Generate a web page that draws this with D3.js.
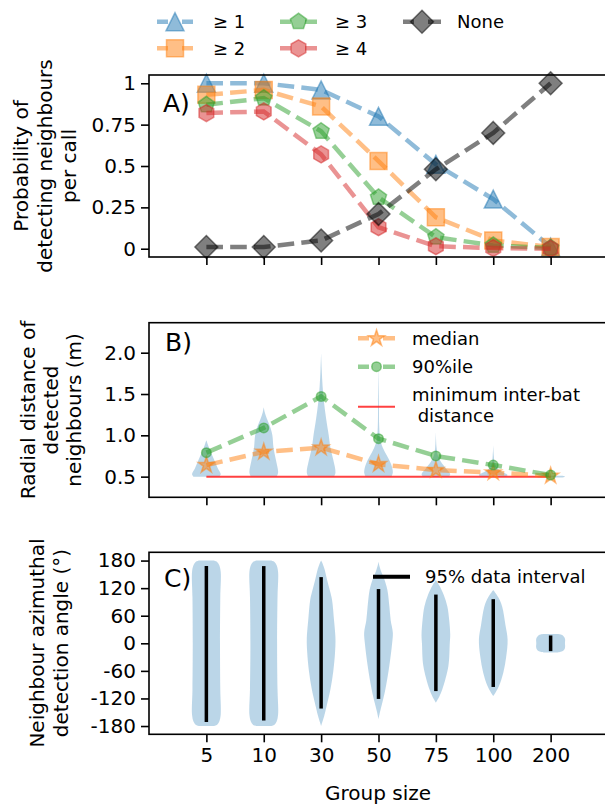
<!DOCTYPE html>
<html><head><meta charset="utf-8">
<script src="https://cdn.jsdelivr.net/npm/d3@7"></script>
<style>
body{margin:0;background:#fff}
text{font-family:"DejaVu Sans",sans-serif;fill:#000}
</style>
</head><body><svg id="c" width="605" height="805"></svg>
<script>
// ---------------- data ----------------
const groups = ["5","10","30","50","75","100","200"];
const probAtLeast1 = [1.0, 1.0, 0.96, 0.80, 0.51, 0.30, 0.01];
const probAtLeast2 = [0.93, 0.96, 0.86, 0.53, 0.19, 0.05, 0.01];
const probAtLeast3 = [0.87, 0.91, 0.71, 0.31, 0.07, 0.02, 0.005];
const probAtLeast4 = [0.82, 0.83, 0.57, 0.13, 0.015, 0.004, 0.0];
const probNone     = [0.01, 0.01, 0.05, 0.21, 0.48, 0.70, 1.0];
const probTicks = [0, 0.25, 0.5, 0.75, 1];
const probTickLabels = ["0","0.25","0.5","0.75","1"];

const medianDist = [0.64, 0.80, 0.85, 0.65, 0.58, 0.55, 0.51];
const p90Dist    = [0.79, 1.09, 1.47, 0.96, 0.75, 0.64, 0.52];
const minInterBat = 0.5;
const distTicks = [0.5, 1.0, 1.5, 2.0];
// violin outlines: [distance (m), relative half-width]
const distViolin5   = [[0.5,0.9],[0.53,1],[0.6,0.8],[0.7,0.55],[0.8,0.3],[0.88,0.12],[0.94,0]];
const distViolin10  = [[0.5,0.9],[0.55,1],[0.7,0.85],[0.85,0.68],[1.0,0.6],[1.1,0.45],[1.2,0.22],[1.28,0.07],[1.34,0]];
const distViolin30  = [[0.5,0.9],[0.55,1],[0.7,0.85],[0.85,0.65],[1.0,0.53],[1.2,0.35],[1.4,0.2],[1.6,0.1],[1.8,0.04],[2.0,0]];
const distViolin50  = [[0.5,0.9],[0.55,1],[0.65,0.88],[0.75,0.6],[0.85,0.3],[0.95,0.12],[1.1,0.05],[1.4,0.03],[1.84,0]];
const distViolin75  = [[0.5,0.9],[0.53,1],[0.6,0.7],[0.68,0.35],[0.75,0.15],[0.85,0.05],[1.04,0]];
const distViolin100 = [[0.5,0.9],[0.52,1],[0.56,0.6],[0.6,0.3],[0.65,0.12],[0.75,0.04],[0.88,0]];
const distViolin200 = [[0.49,0.8],[0.5,1],[0.51,0.8]];
const distViolins = [distViolin5,distViolin10,distViolin30,distViolin50,distViolin75,distViolin100,distViolin200];

const angleTicks = [-180,-120,-60,0,60,120,180];
// violin outlines: [angle (deg), relative half-width]
const angleViolin5   = [[-180,0.5],[-177,0.75],[-170,0.9],[-155,1],[-100,0.97],[0,0.95],[100,0.97],[155,1],[170,0.9],[177,0.75],[180,0.5]];
const angleViolin10  = [[-180,0.5],[-177,0.75],[-170,0.9],[-155,1],[-100,0.96],[0,0.93],[100,0.96],[155,1],[170,0.9],[177,0.75],[180,0.5]];
const angleViolin30  = [[-180,0],[-160,0.2],[-137,0.38],[-100,0.65],[-60,0.85],[-20,0.97],[10,1],[50,0.9],[95,0.76],[116,0.6],[140,0.4],[160,0.25],[175,0.08],[180,0]];
const angleViolin50  = [[-165,0],[-150,0.1],[-129,0.27],[-100,0.48],[-50,0.75],[0,0.95],[23,1],[50,0.85],[80,0.76],[116,0.62],[140,0.4],[155,0.2],[170,0.05],[178,0]];
const angleViolin75  = [[-129,0],[-115,0.25],[-100,0.45],[-50,0.87],[0,0.97],[19,1],[50,0.93],[80,0.8],[105,0.55],[125,0.25],[138,0]];
const angleViolin100 = [[-115,0],[-105,0.2],[-93,0.4],[-64,0.7],[-30,0.9],[8,1],[40,0.85],[80,0.62],[100,0.35],[116,0]];
const angleViolin200 = [[-20,0.5],[-17,0.85],[-10,1],[0,1],[10,1],[17,0.85],[20,0.5]];
const angleViolins = [angleViolin5,angleViolin10,angleViolin30,angleViolin50,angleViolin75,angleViolin100,angleViolin200];
const angleIntervalLow  = [-171,-168,-142,-121,-104,-95,-17];
const angleIntervalHigh = [168,168,144,118,106,96,17];

// ---------------- drawing ----------------
const svg = d3.select("#c");
const FONT_TICK = 20, FONT_LABEL = 20, FONT_LEG = 18, FONT_PANEL = 25;
const C = {blue:"#1f77b4", orange:"#ff7f0e", green:"#2ca02c", red:"#d62728", black:"#000000"};
const DASH = "16.6,7.2";
const LW = 4.5;

const x = d3.scaleLinear().domain([0, 8]).range([149, 608]);
const xpos = groups.map((g,i)=>i+1);
const hw = (x(1)-x(0))*0.25;

function markerPath(type, ms){
  const r = ms/2;
  const poly = (n, rad, rot) => d3.range(n).map(k=>{const a = rot + 2*Math.PI*k/n; return [rad*Math.sin(a), -rad*Math.cos(a)];});
  let pts;
  if(type==="^") pts = [[0,-r],[-r,r],[r,r]];
  else if(type==="s") pts = [[-r,-r],[r,-r],[r,r],[-r,r]];
  else if(type==="p") pts = poly(5, r, 0);
  else if(type==="h") pts = poly(6, r, 0);
  else if(type==="D") { const d = r*1.35; pts = [[0,-d],[d,0],[0,d],[-d,0]]; }
  else if(type==="*") { pts = []; for(let k=0;k<10;k++){ const a = Math.PI*k/5; const rad = k%2===0 ? r : r*0.381966; pts.push([rad*Math.sin(a), -rad*Math.cos(a)]); } }
  else if(type==="o") { return d3.symbol(d3.symbolCircle, Math.PI*r*r)(); }
  return "M" + pts.map(p=>p[0].toFixed(2)+","+p[1].toFixed(2)).join("L") + "Z";
}

function drawFrame(top, bottom){
  svg.append("rect").attr("x",149).attr("y",top).attr("width",608-149).attr("height",bottom-top)
    .attr("fill","none").attr("stroke","#000").attr("stroke-width",1.6);
}
function xTicks(bottom, labels){
  const g = svg.append("g").attr("transform",`translate(0,${bottom})`)
    .call(d3.axisBottom(x).tickValues(xpos).tickSize(8).tickPadding(6).tickFormat((d,i)=>labels?groups[i]:""));
  g.select(".domain").remove();
  g.selectAll(".tick line").attr("stroke","#000").attr("stroke-width",1.6);
  g.selectAll(".tick text").attr("font-size",FONT_TICK).attr("font-family","DejaVu Sans").attr("fill","#000");
}
function yAxis(scale, ticks, fmt){
  const g = svg.append("g").attr("transform","translate(149,0)")
    .call(d3.axisLeft(scale).tickValues(ticks).tickSize(8).tickPadding(5).tickFormat(fmt));
  g.select(".domain").remove();
  g.selectAll(".tick line").attr("stroke","#000").attr("stroke-width",1.6);
  g.selectAll(".tick text").attr("font-size",FONT_TICK).attr("font-family","DejaVu Sans").attr("fill","#000");
}
function yLabel(lines, xs, cy){
  lines.forEach((t,i)=>{
    svg.append("text").attr("transform",`translate(${xs[i]},${cy}) rotate(-90)`)
      .attr("text-anchor","middle").attr("dy","0.36em").attr("font-size",FONT_LABEL).text(t);
  });
}
function series(yscale, vals, color, marker, ms){
  const line = d3.line().x((d,i)=>x(xpos[i])).y(d=>yscale(d));
  svg.append("path").attr("d",line(vals)).attr("fill","none").attr("stroke",color)
    .attr("stroke-width",LW).attr("stroke-dasharray",DASH).attr("stroke-opacity",0.5);
  svg.append("g").selectAll("path").data(vals).join("path")
    .attr("transform",(d,i)=>`translate(${x(xpos[i])},${yscale(d)})`)
    .attr("d",markerPath(marker,ms)).attr("fill",color).attr("fill-opacity",0.5)
    .attr("stroke",color).attr("stroke-opacity",0.5).attr("stroke-width",1.5).attr("stroke-linejoin","miter");
}
function legendLine(x0, x1, y, color, marker, ms, label, tx){
  svg.append("line").attr("x1",x0).attr("x2",x1).attr("y1",y).attr("y2",y).attr("stroke",color)
    .attr("stroke-width",LW).attr("stroke-dasharray","11,14,16").attr("stroke-opacity",0.5);
  svg.append("path").attr("transform",`translate(${(x0+x1)/2},${y})`).attr("d",markerPath(marker,ms))
    .attr("fill",color).attr("fill-opacity",0.5).attr("stroke",color).attr("stroke-opacity",0.5).attr("stroke-width",1.5);
  svg.append("text").attr("x",tx).attr("y",y).attr("dy","0.36em").attr("font-size",FONT_LEG).text(label);
}

// ---------- Panel A ----------
const yA = d3.scaleLinear().domain([-0.05,1.05]).range([257,75]);
series(yA, probAtLeast1, C.blue, "^", 18);
series(yA, probAtLeast2, C.orange, "s", 17);
series(yA, probAtLeast3, C.green, "p", 17);
series(yA, probAtLeast4, C.red, "h", 17);
series(yA, probNone, C.black, "D", 17);
drawFrame(75,257);
xTicks(257,false);
yAxis(yA, probTicks, (d,i)=>probTickLabels[i]);
yLabel(["Probability of","detecting neighbours","per call"],[21,45,69],166);
svg.append("text").attr("x",163).attr("y",112).attr("font-size",FONT_PANEL).text("A)");

// legend (top)
legendLine(157,193,21.7,C.blue,"^",18,"\u2265 1",213);
legendLine(157,193,48.3,C.orange,"s",17,"\u2265 2",213);
legendLine(280,317,21.7,C.green,"p",17,"\u2265 3",335);
legendLine(280,317,48.3,C.red,"h",17,"\u2265 4",335);
legendLine(403,441,21.7,C.black,"D",17,"None",457);

// ---------- Panel B ----------
const yB = d3.scaleLinear().domain([0.25,2.363]).range([497.3,322.7]);
function violins(yscale, data){
  data.forEach((pts,i)=>{
    const cx = x(xpos[i]);
    const area = d3.area().y(d=>yscale(d[0])).x0(d=>cx-d[1]*hw).x1(d=>cx+d[1]*hw).curve(d3.curveCatmullRom.alpha(0.5));
    svg.append("path").attr("d",area(pts)).attr("fill",C.blue).attr("fill-opacity",0.3).attr("stroke","none");
  });
}
violins(yB, distViolins);
svg.append("line").attr("x1",x(xpos[0])).attr("x2",x(xpos[6])).attr("y1",yB(minInterBat)).attr("y2",yB(minInterBat))
  .attr("stroke","#ff2020").attr("stroke-opacity",0.85).attr("stroke-width",2);
series(yB, medianDist, C.orange, "*", 17);
series(yB, p90Dist, C.green, "o", 9.5);
drawFrame(322.7,497.3);
xTicks(497.3,false);
yAxis(yB, distTicks, d3.format(".1f"));
yLabel(["Radial distance of","detected","neighbours (m)"],[28,51,74],410);
svg.append("text").attr("x",165).attr("y",351).attr("font-size",FONT_PANEL).text("B)");
legendLine(358,395,338.3,C.orange,"*",17,"median",412);
legendLine(358,395,366.7,C.green,"o",9.5,"90%ile",412);
svg.append("line").attr("x1",358).attr("x2",395).attr("y1",406.7).attr("y2",406.7).attr("stroke","#ff2020").attr("stroke-opacity",0.85).attr("stroke-width",2);
svg.append("text").attr("x",412).attr("y",394.3).attr("dy","0.36em").attr("font-size",FONT_LEG).text("minimum inter-bat");
svg.append("text").attr("x",417.7).attr("y",415.5).attr("dy","0.36em").attr("font-size",FONT_LEG).text("distance");

// ---------- Panel C ----------
const yC = d3.scaleLinear().domain([-198,198]).range([734.3,552.3]);
violins(yC, angleViolins);
svg.append("g").selectAll("line").data(groups).join("line")
  .attr("x1",(d,i)=>x(xpos[i])).attr("x2",(d,i)=>x(xpos[i]))
  .attr("y1",(d,i)=>yC(angleIntervalLow[i])).attr("y2",(d,i)=>yC(angleIntervalHigh[i]))
  .attr("stroke","#000").attr("stroke-width",3.5);
drawFrame(552.3,734.3);
xTicks(734.3,true);
yAxis(yC, angleTicks, d=>d.toString());
yLabel(["Neighbour azimuthal","detection angle (\u00b0)"],[37,61],643);
svg.append("text").attr("x",164).attr("y",587).attr("font-size",FONT_PANEL).text("C)");
svg.append("line").attr("x1",373).attr("x2",410).attr("y1",576.7).attr("y2",576.7).attr("stroke","#000").attr("stroke-width",4);
svg.append("text").attr("x",425).attr("y",576.7).attr("dy","0.36em").attr("font-size",FONT_LEG).text("95% data interval");

svg.append("text").attr("x",378).attr("y",800).attr("text-anchor","middle").attr("font-size",FONT_LABEL).text("Group size");
</script>
</body></html>
